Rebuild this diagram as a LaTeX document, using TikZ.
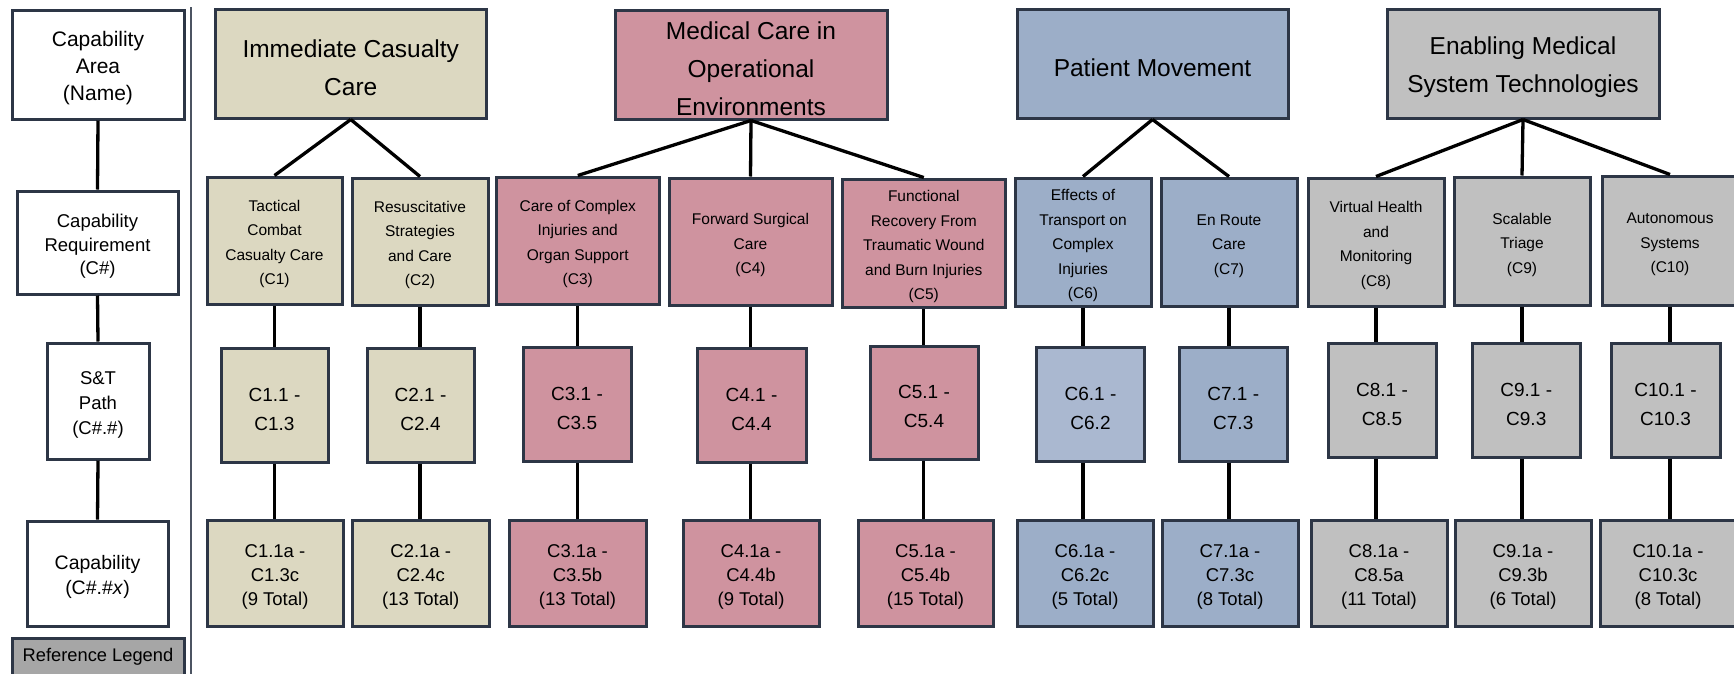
\documentclass[tikz,border=0pt]{standalone}
\usepackage{fontspec}
\setmainfont{Liberation Sans}
\definecolor{tanc}{HTML}{DCD8C1}
\definecolor{pinkc}{HTML}{CF939F}
\definecolor{bluec}{HTML}{9CAEC8}
\definecolor{lbluec}{HTML}{AAB8D0}
\definecolor{greyc}{HTML}{C0C0C0}
\definecolor{refc}{HTML}{A6A6A6}
\definecolor{bordc}{HTML}{2D3646}
\newcommand\dnst{\vrule width 0pt height \dimexpr0.75em+7pt\relax depth 0pt\relax}
\tikzset{
  bx/.style={draw=bordc, line width=3pt, inner sep=0pt, align=center, text=black},
  tanb/.style={bx, fill=tanc},
  pinkb/.style={bx, fill=pinkc},
  blueb/.style={bx, fill=bluec},
  lblueb/.style={bx, fill=lbluec},
  greyb/.style={bx, fill=greyc},
  whiteb/.style={bx, fill=white},
  refb/.style={bx, fill=refc},
  fsz/.style 2 args={font=\fontsize{#1}{#2}\selectfont},
  lvone/.style={fsz={24.5}{38}},
  lvtwo/.style={fsz={15.5}{24.5}},
  lvthree/.style={fsz={19}{29}},
  lvfour/.style={fsz={18.5}{24}},
  conn/.style={line width=3.3pt, draw=black},
  divider/.style={line width=1.5pt, draw=bordc!85},
}
\begin{document}
\begin{tikzpicture}[x=1pt,y=-1pt]
\useasboundingbox (0,0) rectangle (1734,673);
\clip (0,0) rectangle (1734,673);
\fill[white] (0,0) rectangle (1734,673);

% legend
\node[whiteb, fsz={21}{27}, minimum width=172pt, minimum height=109pt] (L1) at (98,64.5) {\dnst Capability\\Area\\(Name)};
\node[whiteb, fsz={18.5}{23.5}, minimum width=161pt, minimum height=103pt] (L2) at (97.5,242.5) {\dnst Capability\\Requirement\\(C\#)};
\node[whiteb, fsz={18.5}{25}, minimum width=102pt, minimum height=116pt] (L3) at (98,401) {\dnst S\&T\\Path\\(C\#.\#)};
\node[whiteb, fsz={19.5}{25}, minimum width=141pt, minimum height=105pt] (L4) at (97.5,573.5) {\dnst Capability\\(C\#.\#\textit{x})};
\node[refb, fsz={18.3}{22}, minimum width=172pt, minimum height=38.5pt] (REF) at (98,657.25) {Reference Legend};
\draw[conn] (L1.south) -- (L2.north);
\draw[conn] (L2.south) -- (L3.north);
\draw[conn] (L3.south) -- (L4.north);

\coordinate (dtop) at (191,7);
\coordinate (dbot) at (191,680);
\draw[divider] (dtop) -- (dbot);

% capability areas
\node[tanb, lvone, minimum width=271.5pt, minimum height=109pt] (A1) at (350.75,63.5) {\dnst Immediate Casualty\\Care};
\node[pinkb, lvone, minimum width=272pt, minimum height=109pt] (A2) at (751,64.5) {\dnst Medical Care in\\Operational\\Environments};
\node[blueb, lvone, minimum width=271pt, minimum height=109pt] (A3) at (1152.5,63.5) {\dnst Patient Movement};
\node[greyb, lvone, minimum width=272pt, minimum height=109pt] (A4) at (1523,63.5) {\dnst Enabling Medical\\System Technologies};

% capability requirements
\node[tanb, lvtwo, minimum width=135pt, minimum height=127pt] (C1) at (274.5,240.5) {\dnst Tactical\\Combat\\Casualty Care\\(C1)};
\node[tanb, lvtwo, minimum width=136pt, minimum height=127pt] (C2) at (420,241.5) {\dnst Resuscitative\\Strategies\\and Care\\(C2)};
\node[pinkb, lvtwo, minimum width=162.5pt, minimum height=127pt] (C3) at (577.75,240.5) {\dnst Care of Complex\\Injuries and\\Organ Support\\(C3)};
\node[pinkb, lvtwo, minimum width=163pt, minimum height=127pt] (C4) at (750.5,241.5) {\dnst Forward Surgical\\Care\\(C4)};
\node[pinkb, lvtwo, minimum width=163.5pt, minimum height=128.5pt] (C5) at (923.75,243.25) {\dnst Functional\\Recovery From\\Traumatic Wound\\and Burn Injuries\\(C5)};
\node[blueb, lvtwo, minimum width=136pt, minimum height=128pt] (C6) at (1083,242) {\dnst Effects of\\Transport on\\Complex\\Injuries\\(C6)};
\node[blueb, lvtwo, minimum width=136pt, minimum height=128pt] (C7) at (1229,242) {\dnst En Route\\Care\\(C7)};
\node[greyb, lvtwo, minimum width=136pt, minimum height=128pt] (C8) at (1376,242) {\dnst Virtual Health\\and\\Monitoring\\(C8)};
\node[greyb, lvtwo, minimum width=136pt, minimum height=128pt] (C9) at (1522,241) {\dnst Scalable\\Triage\\(C9)};
\node[greyb, lvtwo, minimum width=136pt, minimum height=129pt] (C10) at (1670,240.5) {\dnst Autonomous\\Systems\\(C10)};

% S&T paths
\node[tanb, lvthree, minimum width=107pt, minimum height=114pt] (C11) at (274.5,405) {\dnst C1.1 -\\C1.3};
\node[tanb, lvthree, minimum width=107pt, minimum height=114pt] (C21) at (420.5,405) {\dnst C2.1 -\\C2.4};
\node[pinkb, lvthree, minimum width=108pt, minimum height=114pt] (C31) at (577,404) {\dnst C3.1 -\\C3.5};
\node[pinkb, lvthree, minimum width=109pt, minimum height=114pt] (C41) at (751.5,405) {\dnst C4.1 -\\C4.4};
\node[pinkb, lvthree, minimum width=108pt, minimum height=113pt] (C51) at (924,402.5) {\dnst C5.1 -\\C5.4};
\node[lblueb, lvthree, minimum width=108pt, minimum height=114pt] (C61) at (1090.5,404) {\dnst C6.1 -\\C6.2};
\node[blueb, lvthree, minimum width=108.5pt, minimum height=114pt] (C71) at (1233.25,404) {\dnst C7.1 -\\C7.3};
\node[greyb, lvthree, minimum width=108pt, minimum height=114pt] (C81) at (1382,400) {\dnst C8.1 -\\C8.5};
\node[greyb, lvthree, minimum width=107.5pt, minimum height=114pt] (C91) at (1526.25,400) {\dnst C9.1 -\\C9.3};
\node[greyb, lvthree, minimum width=109pt, minimum height=114pt] (C101) at (1665.5,400) {\dnst C10.1 -\\C10.3};

% capabilities
\node[tanb, lvfour, minimum width=136pt, minimum height=106pt] (C1a) at (275,573) {\dnst C1.1a -\\C1.3c\\(9 Total)};
\node[tanb, lvfour, minimum width=136.5pt, minimum height=106pt] (C2a) at (420.75,573) {\dnst C2.1a -\\C2.4c\\(13 Total)};
\node[pinkb, lvfour, minimum width=137pt, minimum height=106pt] (C3a) at (577.5,573) {\dnst C3.1a -\\C3.5b\\(13 Total)};
\node[pinkb, lvfour, minimum width=136pt, minimum height=106pt] (C4a) at (751,573) {\dnst C4.1a -\\C4.4b\\(9 Total)};
\node[pinkb, lvfour, minimum width=135pt, minimum height=106pt] (C5a) at (925.5,573) {\dnst C5.1a -\\C5.4b\\(15 Total)};
\node[blueb, lvfour, minimum width=136pt, minimum height=106pt] (C6a) at (1085,573) {\dnst C6.1a -\\C6.2c\\(5 Total)};
\node[blueb, lvfour, minimum width=136pt, minimum height=106pt] (C7a) at (1230,573) {\dnst C7.1a -\\C7.3c\\(8 Total)};
\node[greyb, lvfour, minimum width=136pt, minimum height=106pt] (C8a) at (1379,573) {\dnst C8.1a -\\C8.5a\\(11 Total)};
\node[greyb, lvfour, minimum width=136pt, minimum height=106pt] (C9a) at (1523,573) {\dnst C9.1a -\\C9.3b\\(6 Total)};
\node[greyb, lvfour, minimum width=136pt, minimum height=106pt] (C10a) at (1668,573) {\dnst C10.1a -\\C10.3c\\(8 Total)};

% tree connectors
\draw[conn] (A1.south) -- (C1.north);
\draw[conn] (A1.south) -- (C2.north);
\draw[conn] (A2.south) -- (C3.north);
\draw[conn] (A2.south) -- (C4.north);
\draw[conn] (A2.south) -- (C5.north);
\draw[conn] (A3.south) -- (C6.north);
\draw[conn] (A3.south) -- (C7.north);
\draw[conn] (A4.south) -- (C8.north);
\draw[conn] (A4.south) -- (C9.north);
\draw[conn] (A4.south) -- (C10.north);

\foreach \p/\q/\r in {C1/C11/C1a, C2/C21/C2a, C3/C31/C3a, C4/C41/C4a, C5/C51/C5a,
                      C6/C61/C6a, C7/C71/C7a, C8/C81/C8a, C9/C91/C9a, C10/C101/C10a}{
  \draw[conn] (\p.south) -- (\p.south |- \q.north);
  \draw[conn] (\p.south |- \q.south) -- (\p.south |- \r.north);
}
\end{tikzpicture}
\end{document}
